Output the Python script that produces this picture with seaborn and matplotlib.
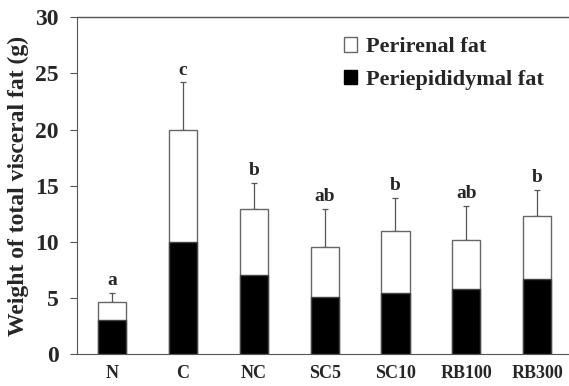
import numpy as np
import pandas as pd
import seaborn as sns
import matplotlib.pyplot as plt
from matplotlib.patches import Patch

groups = ['N', 'C', 'NC', 'SC5', 'SC10', 'RB100', 'RB300']
total_fat = [4.6, 20.0, 12.9, 9.5, 11.0, 10.2, 12.3]
periepididymal = [3.0, 10.0, 7.0, 5.05, 5.45, 5.8, 6.7]
sd_upper = [0.8, 4.2, 2.3, 3.4, 2.9, 3.0, 2.3]
letters = ['a', 'c', 'b', 'ab', 'b', 'ab', 'b']

df = pd.DataFrame({'group': groups, 'total': total_fat, 'epi': periepididymal})

sns.set_style('white')
plt.rcParams['font.family'] = ['Liberation Serif', 'DejaVu Serif']
plt.rcParams['font.weight'] = 'bold'

fig, ax = plt.subplots(figsize=(5.69, 3.86), dpi=100)
fig.subplots_adjust(left=0.135, right=1.0, top=0.955, bottom=0.083)

sns.barplot(data=df, x='group', y='total', color='white', edgecolor='#666666',
            linewidth=1, width=0.4, ax=ax, zorder=2)
sns.barplot(data=df, x='group', y='epi', color='black', edgecolor='#444444',
            linewidth=1, width=0.4, ax=ax, zorder=3)

x = np.arange(len(groups))
ax.errorbar(x, total_fat, yerr=[np.zeros(len(x)), sd_upper], fmt='none',
            ecolor='#555555', elinewidth=0.9, capsize=2.5, capthick=0.9, zorder=1)

for xi, t, s, lab in zip(x, total_fat, sd_upper, letters):
    ax.text(xi, t + s + 0.35, lab, ha='center', va='bottom', fontsize=14,
            fontweight='bold')

ax.set_ylim(0, 30)
ax.set_xlim(-0.5, 6.45)
ax.set_yticks([0, 5, 10, 15, 20, 25, 30])
ax.axhline(30, color='#555555', lw=1, clip_on=False)
ax.set_xlabel('')
ax.set_ylabel('Weight of total visceral fat (g)', fontsize=17, fontweight='bold',
              labelpad=4)
ax.tick_params(axis='y', labelsize=17, length=5, pad=8, direction='out', left=True,
               color='#555555')
ax.tick_params(axis='x', labelsize=13, length=0, pad=8)
for lbl in ax.get_xticklabels() + ax.get_yticklabels():
    lbl.set_fontweight('bold')

sns.despine(ax=ax, right=True, top=True)
ax.spines['left'].set_color('#555555')
ax.spines['bottom'].set_color('#555555')

handles = [Patch(facecolor='white', edgecolor='#666666', label='Perirenal fat'),
           Patch(facecolor='black', edgecolor='black', label='Periepididymal fat')]
ax.legend(handles=handles, loc='upper right', bbox_to_anchor=(0.99, 1.0),
          frameon=False, prop={'size': 16, 'weight': 'bold'},
          handlelength=0.6, handleheight=0.6, handletextpad=0.4, labelspacing=0.55)

fig.savefig('out.png', dpi=100)
